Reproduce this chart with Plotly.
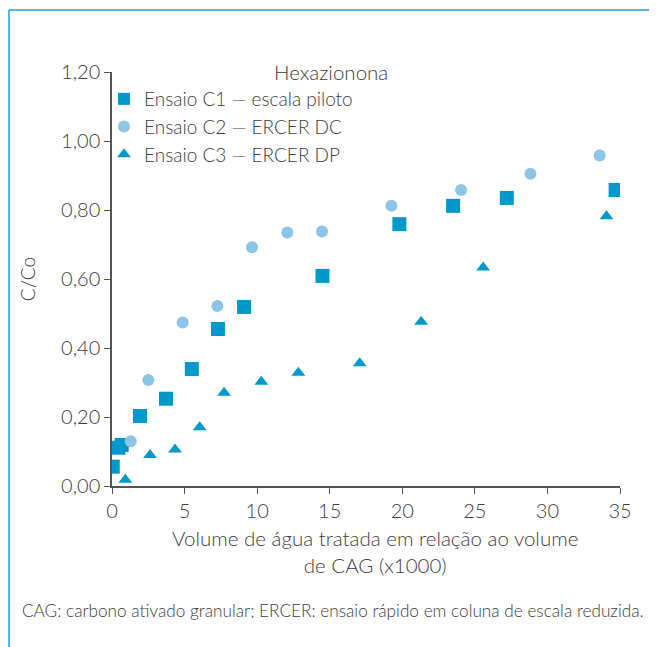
import plotly.graph_objects as go

# Series data
c1_x = [0.05, 0.43, 0.67, 1.93, 3.72, 5.5, 7.3, 9.1, 14.5, 19.8, 23.5, 27.2, 34.7]
c1_y = [0.056, 0.111, 0.119, 0.203, 0.253, 0.339, 0.455, 0.519, 0.609, 0.759, 0.812, 0.835, 0.858]

c2_x = [1.29, 2.5, 4.87, 7.26, 9.65, 12.08, 14.47, 19.25, 24.05, 28.83, 33.6]
c2_y = [0.13, 0.307, 0.474, 0.522, 0.692, 0.735, 0.738, 0.812, 0.858, 0.905, 0.958]

c3_x = [0.92, 2.62, 4.34, 6.04, 7.72, 10.29, 12.84, 17.07, 21.3, 25.57, 34.07]
c3_y = [0.018, 0.09, 0.106, 0.17, 0.27, 0.302, 0.328, 0.356, 0.476, 0.633, 0.782]

names = ["Ensaio C1 — escala piloto", "Ensaio C2 — ERCER DC", "Ensaio C3 — ERCER DP"]
x_ticks = [0, 5, 10, 15, 20, 25, 30, 35]
y_ticks = [0, 0.2, 0.4, 0.6, 0.8, 1.0, 1.2]
x_title = "Volume de água tratada em relação ao volume<br>de CAG (x1000)"

FONT = "Lato"
WEIGHT = 300
TXT = "#404040"
DARK = "#0099cc"
LIGHT = "#8cc5e8"
FRAME = "#1aa3dc"

fig = go.Figure()
fig.add_trace(go.Scatter(x=c1_x, y=c1_y, mode="markers", name=names[0],
                         marker=dict(symbol="square", size=14, color=DARK)))
fig.add_trace(go.Scatter(x=c2_x, y=c2_y, mode="markers", name=names[1],
                         marker=dict(symbol="circle", size=12, color=LIGHT)))
fig.add_trace(go.Scatter(x=c3_x, y=c3_y, mode="markers", name=names[2],
                         marker=dict(symbol="triangle-up", size=12, color=DARK)))

# the page draws the figure 8px in from the top-left corner
OFF = 8
W, H = 657 - OFF, 647 - OFF
L, R, T, B = 112 - OFF, 37, 72 - OFF, 161
pw, ph = W - L - R, H - T - B

def px_x(p):
    return (p - OFF - L) / pw

def px_y(p):
    return (H - B - (p - OFF)) / ph

def f(size):
    return dict(family=FONT, size=size, color=TXT, weight=WEIGHT)

def note(text, x, y, size, anchor="center"):
    return dict(text=text, xref="paper", yref="paper", x=px_x(x), y=px_y(y),
                xanchor=anchor, yanchor="middle", showarrow=False, font=f(size))

fig.update_layout(
    width=W, height=H,
    margin=dict(l=L, r=R, t=T, b=B),
    paper_bgcolor="white", plot_bgcolor="white",
    separators=", ",
    font=f(18),
    showlegend=True,
    legend=dict(x=px_x(104), y=px_y(80), xanchor="left", yanchor="top",
                bgcolor="rgba(0,0,0,0)", font=f(19), itemsizing="constant",
                itemwidth=30, tracegroupgap=0),
    xaxis=dict(range=[0, 35], tickvals=x_ticks, showline=True, linecolor="#555555",
               linewidth=1.5, ticks="outside", ticklen=6, tickcolor="#555555",
               showgrid=False, zeroline=False,
               tickfont=f(20)),
    yaxis=dict(range=[0, 1.2], tickvals=y_ticks, tickformat=".2f", showline=True,
               linecolor="#555555", linewidth=1.5, ticks="outside", ticklen=6,
               tickcolor="#555555", showgrid=False, zeroline=False,
               tickfont=f(20),
               title=dict(text="C/Co", font=f(19), standoff=20)),
    annotations=[
        note("Hexazionona", 331, 72, 20.5),
        note(x_title, 375, 551, 20.5),
        note("CAG: carbono ativado granular; ERCER: ensaio rápido em coluna de escala reduzida.",
             20, 610, 17.2, anchor="left"),
    ],
    shapes=[
        dict(type="line", xref="paper", yref="paper", x0=px_x(9), x1=px_x(670),
             y0=px_y(10), y1=px_y(10), line=dict(color=FRAME, width=1.5)),
        dict(type="line", xref="paper", yref="paper", x0=px_x(9), x1=px_x(9),
             y0=px_y(10), y1=px_y(660), line=dict(color=FRAME, width=1.5)),
    ],
)

fig.write_html("out.html")
